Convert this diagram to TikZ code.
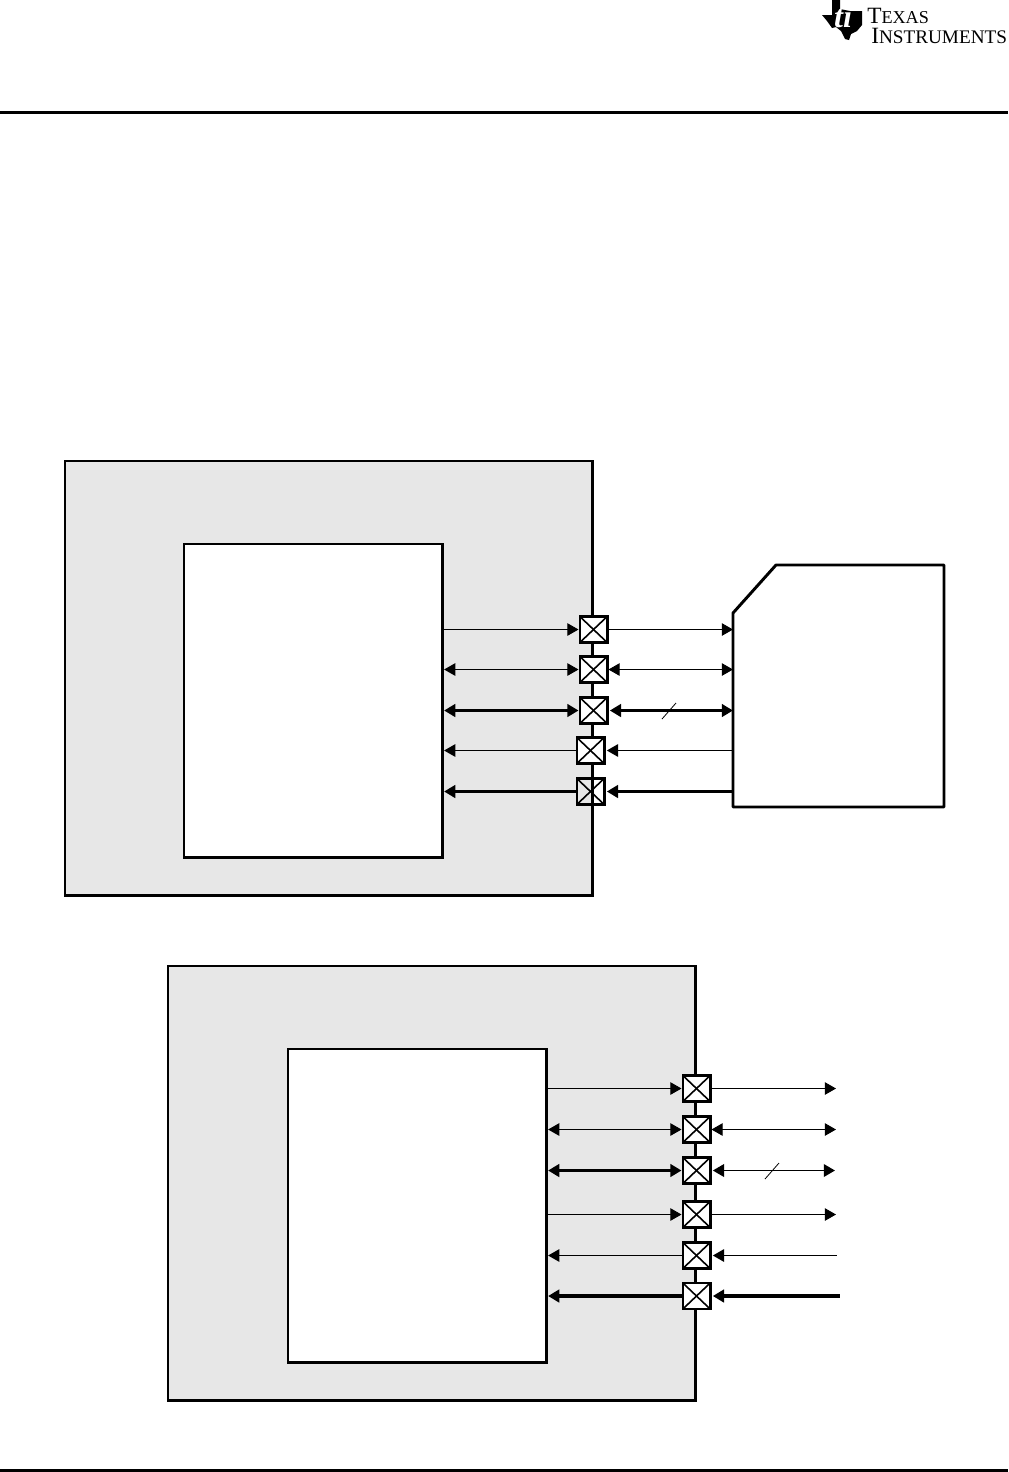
\documentclass[tikz,border=0pt]{standalone}
\usepackage{fontspec}
\setmainfont{Liberation Serif}
\usetikzlibrary{arrows.meta}
\definecolor{socgray}{HTML}{E7E7E7}
\tikzset{
  blockbox/.style={draw=black, line width=2.2pt, inner sep=0pt, anchor=north west},
  padbox/.style={
    draw=black, fill=white, line width=1.9pt, rectangle, minimum width=20.6pt, minimum height=19.6pt, inner sep=0pt,
    path picture={
      \draw[line width=1.2pt] (path picture bounding box.north west) -- (path picture bounding box.south east);
      \draw[line width=1.2pt] (path picture bounding box.north east) -- (path picture bounding box.south west);
    }
  },
  sigthin/.style={line width=0.8pt},
  sigthick/.style={line width=2.3pt},
  tip/.tip={Triangle[length=8.4pt, width=9.4pt]},
}

\begin{document}
\begin{tikzpicture}[x=0.75pt, y=-0.75pt]

    \useasboundingbox (0,0) rectangle (1008,1472);

    % Header and footer
    \draw[line width=2.25pt] (0,112.5) -- (1008,112.5);
    \draw[line width=2.4pt] (0,1470.5) -- (1008,1470.5);

    % Logo
    \fill[black] (832,0) -- (840,0) -- (840,9) -- (850,11) -- (862,11) -- (862,25) -- (857,31) -- (851,34) -- (849,40) -- (845,39) -- (841,31) -- (836,27) -- (832,28) -- (827,21) -- (822,15) -- (832,15) -- cycle;
    \node[white, font=\bfseries\itshape\fontsize{24}{24}\selectfont, inner sep=0pt] (logoti) at (843,17) {ti};
    \node[anchor=west, inner sep=0pt, font=\fontsize{17.5}{17.5}\selectfont] (logotexas) at (867,16) {T\fontsize{13.6}{13.6}\selectfont EXAS};
    \node[anchor=west, inner sep=0pt, font=\fontsize{17.5}{17.5}\selectfont] (logoinst) at (871,36) {I\fontsize{14.4}{14.4}\selectfont NSTRUMENTS};

    % Upper device
    \node[blockbox, fill=socgray, minimum width=395.6pt, minimum height=325.9pt] (socA) at (63.5,459.5) {};
    \node[blockbox, fill=white, minimum width=194pt, minimum height=235pt] (coreA) at (182.5,542.5) {};

    % Card
    \draw[line width=2.2pt, line join=round, fill=white] (733,613) -- (776,565) -- (944,565) -- (944,807) -- (733,807) -- cycle;
    \coordinate (cardA) at (733,700);

    % Upper pads
    \node[padbox] (A1) at (593.5,629.5) {};
    \node[padbox] (A2) at (593.5,669.5) {};
    \node[padbox] (A3) at (593.5,710.5) {};
    \node[padbox] (A4) at (590.5,750.5) {};
    \node[padbox, fill=none] (A5) at (590.5,791.5) {};

    % Upper signals, core side
    \draw[sigthin, -{tip}] (coreA.east |- A1.west) -- (A1.west);
    \draw[sigthin, {tip}-{tip}] (coreA.east |- A2.west) -- (A2.west);
    \draw[sigthick, {tip}-{tip}] (coreA.east |- A3.west) -- (A3.west);
    \draw[sigthin, {tip}-] (coreA.east |- A4.west) -- (A4.west);
    \draw[sigthick, {tip}-] (coreA.east |- A5.west) -- (A5.west);

    % Upper signals, card side
    \draw[sigthin, -{tip}] (A1.east) -- (cardA |- A1.east);
    \draw[sigthin, {tip}-{tip}] (A2.east) -- (cardA |- A2.east);
    \draw[sigthick, {tip}-{tip}, shorten <=1pt] (A3.east) -- (cardA |- A3.east);
    \draw[sigthin, {tip}-, shorten <=1pt] (A4.east) -- (cardA |- A4.east);
    \draw[sigthick, {tip}-, shorten <=1pt] (A5.east) -- (cardA |- A5.east);

    % Bus mark
    \coordinate (slashAa) at (662,719);
    \coordinate (slashAb) at (676,703);
    \draw[line width=0.6pt] (slashAa) -- (slashAb);

    % Lower device
    \node[blockbox, fill=socgray, minimum width=395.6pt, minimum height=325.9pt] (socB) at (166.5,964.5) {};
    \node[blockbox, fill=white, minimum width=194pt, minimum height=235pt] (coreB) at (286.5,1047.5) {};

    % Lower pads
    \node[padbox] (B1) at (696.5,1088.5) {};
    \node[padbox] (B2) at (696.5,1129.5) {};
    \node[padbox] (B3) at (696.5,1170.5) {};
    \node[padbox] (B4) at (696.5,1214.5) {};
    \node[padbox] (B5) at (696.5,1255.5) {};
    \node[padbox] (B6) at (696.5,1296) {};

    % Free ends
    \coordinate (outB1) at (836,1088.5);
    \coordinate (outB2) at (836,1129.5);
    \coordinate (outB3) at (835,1170.5);
    \coordinate (outB4) at (836,1214.5);
    \coordinate (inB5) at (837,1255.5);
    \coordinate (inB6) at (840,1296);

    % Lower signals, core side
    \draw[sigthin, -{tip}] (coreB.east |- B1.west) -- (B1.west);
    \draw[sigthin, {tip}-{tip}] (coreB.east |- B2.west) -- (B2.west);
    \draw[sigthick, {tip}-{tip}] (coreB.east |- B3.west) -- (B3.west);
    \draw[sigthin, -{tip}] (coreB.east |- B4.west) -- (B4.west);
    \draw[sigthin, {tip}-] (coreB.east |- B5.west) -- (B5.west);
    \draw[sigthick, {tip}-] (coreB.east |- B6.west) -- (B6.west);

    % Lower signals, outer side
    \draw[sigthin, -{tip}] (B1.east) -- (outB1);
    \draw[sigthin, {tip}-{tip}] (B2.east) -- (outB2);
    \draw[line width=1.4pt, {tip}-{tip}, shorten <=1pt] (B3.east) -- (outB3);
    \draw[sigthin, -{tip}] (B4.east) -- (outB4);
    \draw[sigthin, {tip}-, shorten <=1pt] (B5.east) -- (inB5);
    \draw[sigthick, {tip}-, shorten <=1pt] (B6.east) -- (inB6);

    % Bus mark
    \coordinate (slashBa) at (765,1179);
    \coordinate (slashBb) at (779,1163);
    \draw[line width=0.6pt] (slashBa) -- (slashBb);

\end{tikzpicture}
\end{document}
